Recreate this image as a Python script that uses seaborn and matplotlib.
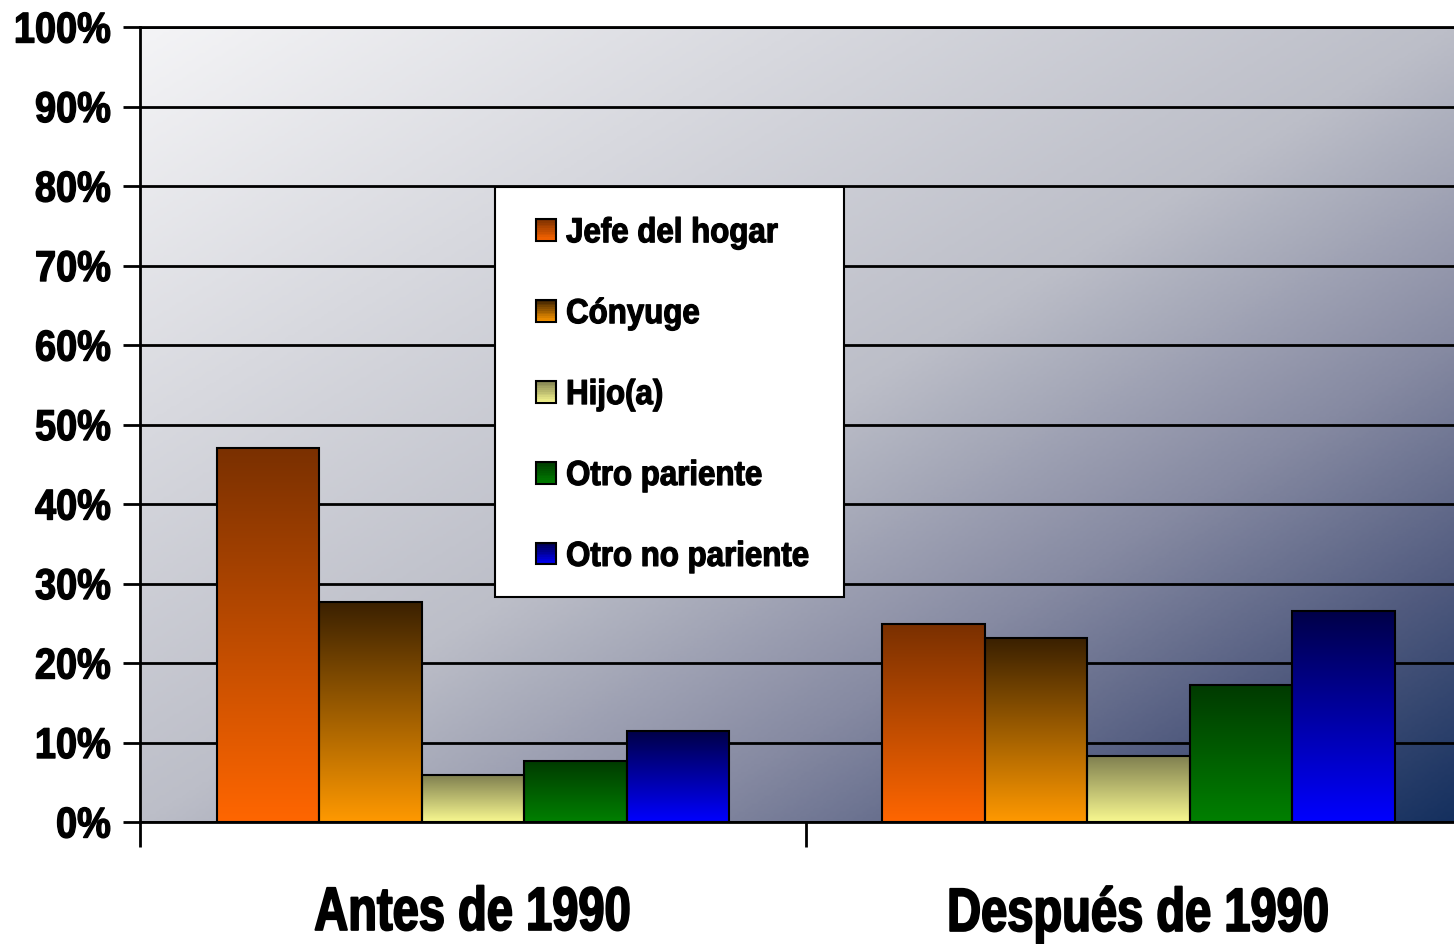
import numpy as np
import pandas as pd
import seaborn as sns
import matplotlib.pyplot as plt
from matplotlib.colors import LinearSegmentedColormap, to_rgb
from matplotlib.patches import Rectangle
from matplotlib.legend_handler import HandlerBase
from matplotlib.patheffects import AbstractPathEffect
from matplotlib.transforms import Affine2D
from matplotlib.ticker import PercentFormatter

periodos = ["Antes de 1990", "Después de 1990"]
relaciones = ["Jefe del hogar", "Cónyuge", "Hijo(a)", "Otro pariente", "Otro no pariente"]
antes = [47.0, 27.7, 5.9, 7.7, 11.4]
despues = [24.9, 23.1, 8.3, 17.2, 26.5]

# colores abajo (claros) y arriba (oscuros) de cada degradado
color_base = ["#ff6600", "#ff9900", "#f8f890", "#008000", "#0000ff"]
color_top = ["#7a3000", "#3a2000", "#808050", "#003a00", "#000048"]

df = pd.DataFrame({
    "periodo": np.repeat(periodos, len(relaciones)),
    "relacion": relaciones * 2,
    "valor": antes + despues,
})

sns.set_theme(style="white")
plt.rcParams["font.family"] = ["Liberation Sans", "DejaVu Sans"]
plt.rcParams["font.weight"] = "bold"
plt.rcParams["text.color"] = "black"
plt.rcParams["xtick.color"] = "black"
plt.rcParams["ytick.color"] = "black"


class Estrecho(AbstractPathEffect):
    # comprime el texto en horizontal (imita Arial Narrow) y lo engruesa un poco
    def __init__(self, sx=0.82, ancla=0.0, grosor=0.8):
        super().__init__()
        self.sx = sx
        self.ancla = ancla
        self.grosor = grosor

    def draw_path(self, renderer, gc, tpath, affine, rgbFace=None):
        xs = tpath.vertices[:, 0]
        cx = 0.0
        if len(xs):
            cx = xs.min() + (xs.max() - xs.min()) * self.ancla
        t = Affine2D().translate(-cx, 0).scale(self.sx, 1).translate(cx, 0) + affine
        gc0 = renderer.new_gc()
        gc0.copy_properties(gc)
        gc0.set_linewidth(self.grosor)
        gc0.set_foreground(rgbFace if rgbFace is not None else "black")
        renderer.draw_path(gc0, tpath, t, rgbFace)
        gc0.restore()


fig = plt.figure(figsize=(14.54, 9.44), dpi=100)
ax = fig.add_axes([140 / 1454, 122 / 944, 1314 / 1454, 795 / 944])

# fondo en degradado diagonal
xx, yy = np.meshgrid(np.linspace(0, 1, 400), np.linspace(0, 1, 300))
t = (xx + yy) / 2
bg_cmap = LinearSegmentedColormap.from_list(
    "fondo", [(0, "#f4f4f6"), (0.5, "#bcbec8"), (0.7, "#868aa2"), (0.85, "#505a7e"), (1, "#15305f")])
ax.imshow(t, cmap=bg_cmap, vmin=0, vmax=1, extent=[0, 1, 0, 1], transform=ax.transAxes,
          aspect="auto", origin="upper", zorder=0)

sns.barplot(data=df, x="periodo", y="valor", hue="relacion", palette=color_base,
            width=0.77, gap=0, edgecolor="black", linewidth=1.5, saturation=1,
            legend=False, ax=ax, zorder=3)

grad = np.linspace(0, 1, 256).reshape(-1, 1)
for i, cont in enumerate(ax.containers):
    cmap = LinearSegmentedColormap.from_list("b%d" % i, [color_base[i], color_top[i]])
    for bar in cont:
        x0, w, h = bar.get_x(), bar.get_width(), bar.get_height()
        ax.imshow(grad, cmap=cmap, extent=[x0, x0 + w, 0, h], origin="lower",
                  aspect="auto", zorder=2.5)
        bar.set_facecolor("none")

ax.set_yticks(range(0, 101, 10))
ax.yaxis.set_major_formatter(PercentFormatter(decimals=0))
ax.set_axisbelow(True)
ax.yaxis.grid(True, color="black", linewidth=2)
ax.xaxis.grid(False)
ax.set_xlabel("")
ax.set_ylabel("")

ax.tick_params(axis="y", left=True, length=12, width=2, color="black", pad=9,
               labelsize=31, direction="out")
ax.set_xticks([0, 1])
ax.set_xticklabels(periodos)
ax.set_xticks([-0.5, 0.5, 1.5], minor=True)
ax.tick_params(axis="x", which="major", length=0, pad=46, labelsize=44)
ax.tick_params(axis="x", which="minor", bottom=True, length=18, width=2,
               color="black", direction="out")
ax.set_xlim(-0.5, 1.474)
ax.set_ylim(0, 100)

for lab in ax.get_xticklabels():
    lab.set_fontweight("bold")
    lab.set_path_effects([Estrecho(0.77, 0.5, 1.4)])
for lab in ax.get_yticklabels():
    lab.set_fontweight("bold")
    lab.set_path_effects([Estrecho(0.88, 1.0, 1.0)])

for s in ["left", "bottom", "top"]:
    ax.spines[s].set_color("black")
    ax.spines[s].set_linewidth(2)
ax.spines["right"].set_visible(False)


class Degradado:
    def __init__(self, abajo, arriba):
        self.abajo = abajo
        self.arriba = arriba


class HandlerDegradado(HandlerBase):
    def create_artists(self, legend, orig_handle, xdescent, ydescent, width, height,
                       fontsize, trans):
        n = 12
        c0 = np.array(to_rgb(orig_handle.abajo))
        c1 = np.array(to_rgb(orig_handle.arriba))
        arts = []
        for k in range(n):
            f = (k + 0.5) / n
            r = Rectangle((-xdescent, -ydescent + k * height / n), width, height / n,
                          facecolor=c0 + (c1 - c0) * f, edgecolor="none", transform=trans)
            arts.append(r)
        arts.append(Rectangle((-xdescent, -ydescent), width, height, fill=False,
                              edgecolor="black", linewidth=1.5, transform=trans))
        return arts


caja = Rectangle((0.270, 0.283), 0.266, 0.516, transform=ax.transAxes,
                 facecolor="white", edgecolor="black", linewidth=1.5, zorder=4)
ax.add_patch(caja)

handles = [Degradado(b, t_) for b, t_ in zip(color_base, color_top)]
leg = ax.legend(handles, relaciones, handler_map={Degradado: HandlerDegradado()},
                loc="upper left", bbox_to_anchor=(0.301, 0.762), borderaxespad=0,
                borderpad=0, frameon=False, prop={"weight": "bold", "size": 25},
                handlelength=0.58, handleheight=0.58, handletextpad=0.3,
                labelspacing=1.38)
leg.set_zorder(5)
for txt in leg.get_texts():
    txt.set_path_effects([Estrecho(0.9, 0.0, 0.9)])

fig.savefig("out.png", dpi=100)
